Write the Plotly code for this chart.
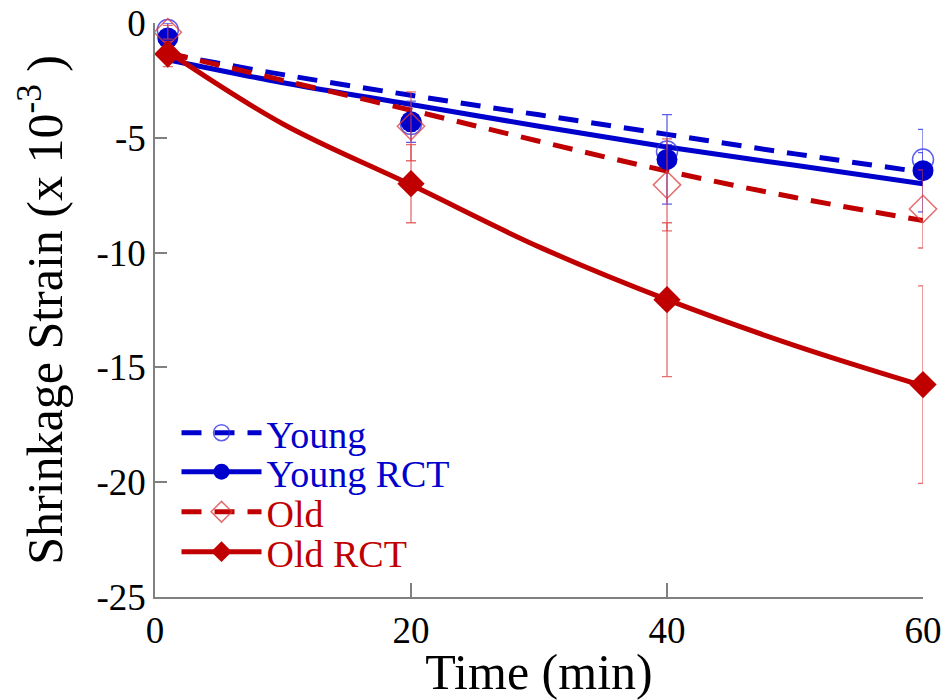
import plotly.graph_objects as go

# ---- measured data points (mean values and standard deviations) ----
time = [1, 20, 40, 60]

young = [-0.3, -4.4, -5.6, -5.95]
young_err = [0.3, 0.3, 0.3, 0.3]

young_rct = [-0.65, -4.3, -5.94, -6.43]
young_rct_err = [0.3, 0.9, 1.95, 1.8]

old = [-0.4, -4.5, -7.05, -8.1]
old_err = [0.3, 1.5, 2.0, 1.7]

old_rct = [-1.35, -7.0, -12.05, -15.75]
old_rct_err = [0.55, 1.7, 3.35, 4.3]

# ---- fitted trend curves ----
fit_time = [1, 10, 20, 30, 40, 50, 60]
young_fit = [-1.35, -2.25, -3.15, -4.0, -4.85, -5.7, -6.5]
young_rct_fit = [-1.6, -2.6, -3.55, -4.5, -5.4, -6.2, -7.0]
old_fit = [-1.3, -2.5, -3.8, -5.15, -6.45, -7.6, -8.6]
old_rct_fit = [-1.25, -4.4, -7.05, -9.75, -12.05, -14.05, -15.8]

x_ticks = [0, 20, 40, 60]
y_ticks = [0, -5, -10, -15, -20, -25]

BLUE = "#0000CC"
RED = "#C00000"
BLUE_LIGHT = "rgba(40,40,230,0.75)"
RED_LIGHT = "rgba(220,60,60,0.75)"
FONT = "Liberation Serif"
DASH = "20px,13px"
LW = 5

series = [
    dict(name="Young", y=young, err=young_err, fit=young_fit, color=BLUE,
         dash=DASH, symbol="circle-open", mcolor=BLUE_LIGHT, ecolor=BLUE_LIGHT,
         mline=1.5, legend="legend"),
    dict(name="Young RCT", y=young_rct, err=young_rct_err, fit=young_rct_fit, color=BLUE,
         dash="solid", symbol="circle", mcolor=BLUE, ecolor=BLUE_LIGHT,
         mline=0, legend="legend2"),
    dict(name="Old", y=old, err=old_err, fit=old_fit, color=RED,
         dash=DASH, symbol="diamond-open", mcolor=RED_LIGHT, ecolor=RED_LIGHT,
         mline=1.5, legend="legend3"),
    dict(name="Old RCT", y=old_rct, err=old_rct_err, fit=old_rct_fit, color=RED,
         dash="solid", symbol="diamond", mcolor=RED, ecolor=RED_LIGHT,
         mline=0, legend="legend4"),
]

fig = go.Figure()

for s in series:
    # trend curve
    fig.add_trace(go.Scatter(
        x=fit_time, y=s["fit"], mode="lines", line_shape="spline",
        line=dict(color=s["color"], width=LW, dash=s["dash"]),
        showlegend=False, hoverinfo="skip", cliponaxis=False,
    ))
for s in series:
    # measured points with error bars
    fig.add_trace(go.Scatter(
        x=time, y=s["y"], mode="markers",
        marker=dict(symbol=s["symbol"], size=21, color=s["mcolor"],
                    line=dict(color=s["mcolor"], width=s["mline"])),
        error_y=dict(type="data", array=s["err"], visible=True,
                     color=s["ecolor"], thickness=1.3, width=5),
        showlegend=False, cliponaxis=False,
    ))
for s in series:
    # legend entry: line with marker, text in the series colour
    fig.add_trace(go.Scatter(
        x=[None], y=[None], mode="lines+markers",
        name=f"<span style='color:{s['color']}'>{s['name']}</span>",
        line=dict(color=s["color"], width=LW, dash=s["dash"]),
        marker=dict(symbol=s["symbol"], size=21, color=s["mcolor"],
                    line=dict(color=s["mcolor"], width=s["mline"])),
        legend=s["legend"], showlegend=True,
    ))

legend_rows = {"legend": 0.2857, "legend2": 0.2178, "legend3": 0.148, "legend4": 0.0784}
legend_layout = {}
for key, ypos in legend_rows.items():
    legend_layout[key] = dict(
        x=0.028, y=ypos, xanchor="left", yanchor="middle",
        bgcolor="rgba(0,0,0,0)", borderwidth=0,
        font=dict(family=FONT, size=38, color="black"),
        itemwidth=80,
    )

fig.update_layout(
    width=944, height=700,
    margin=dict(l=155, r=21, t=23, b=103),
    paper_bgcolor="white", plot_bgcolor="white",
    font=dict(family=FONT, color="black"),
    **legend_layout,
)

fig.update_xaxes(
    range=[0, 60], tickvals=x_ticks, ticktext=[str(v) for v in x_ticks],
    ticks="inside", ticklen=14, tickwidth=1.5, tickcolor="#808080",
    showline=True, linecolor="#808080", linewidth=1.5,
    showgrid=False, zeroline=False, automargin=False,
    tickfont=dict(family=FONT, size=37, color="black"),
    ticklabelstandoff=0,
    title=dict(text="Time (min)", font=dict(family=FONT, size=50, color="black"), standoff=4),
)
fig.update_yaxes(
    range=[-25, 0], tickvals=y_ticks, ticktext=[str(v) for v in y_ticks],
    ticks="inside", ticklen=12, tickwidth=1.5, tickcolor="#808080",
    showline=True, linecolor="#808080", linewidth=1.5,
    showgrid=False, zeroline=False, automargin=False,
    tickfont=dict(family=FONT, size=37, color="black"),
    title=dict(text="Shrinkage Strain (x 10<sup>-3</sup> )",
               font=dict(family=FONT, size=50, color="black"), standoff=18),
)

fig.write_html("out.html")
